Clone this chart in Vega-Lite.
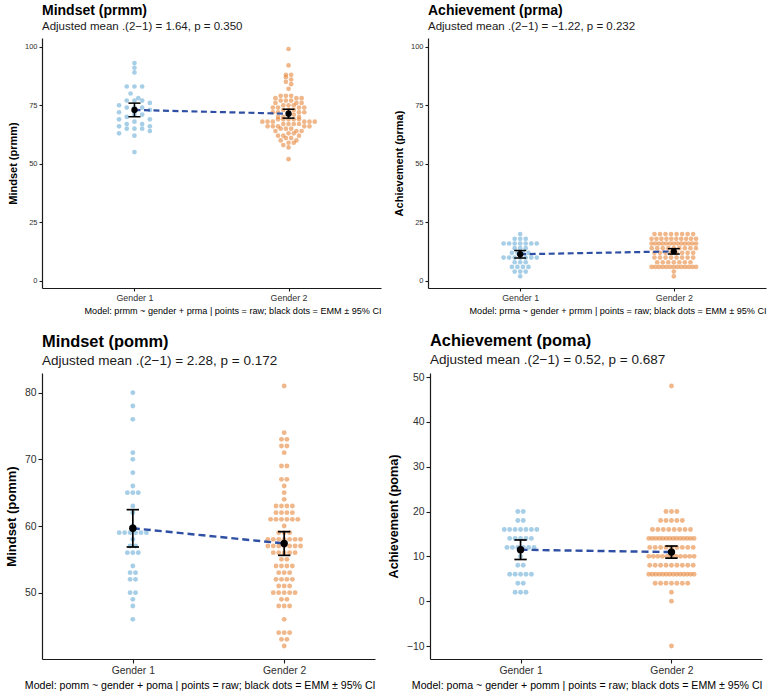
{
  "$schema": "https://vega.github.io/schema/vega-lite/v6.json",
  "background": "white",
  "padding": {"left": 5, "top": 3, "right": 5, "bottom": 3},
  "config": {
    "font": "Liberation Sans",
    "view": {"stroke": null},
    "axis": {"grid": false, "domainColor": "#1a1a1a", "tickColor": "#1a1a1a", "labelColor": "#303030", "titleColor": "#000000", "domainWidth": 1.2, "tickWidth": 1.1, "titleFontWeight": "bold"},
    "title": {"anchor": "start", "frame": "group", "color": "#000000", "subtitleColor": "#1a1a1a", "fontWeight": "bold", "subtitleFontWeight": "normal"}
  },
  "datasets": {
    "prmm": [
      {"gender":1,"score":93},{"gender":1,"score":91},{"gender":1,"score":89},{"gender":1,"score":83},{"gender":1,"score":83},{"gender":1,"score":83},{"gender":1,"score":80},{"gender":1,"score":78},{"gender":1,"score":77},{"gender":1,"score":77},{"gender":1,"score":77},{"gender":1,"score":76},{"gender":1,"score":75},{"gender":1,"score":74},{"gender":1,"score":74},{"gender":1,"score":74},{"gender":1,"score":73},{"gender":1,"score":72},{"gender":1,"score":71},{"gender":1,"score":71},{"gender":1,"score":70},{"gender":1,"score":69},{"gender":1,"score":69},{"gender":1,"score":68},{"gender":1,"score":67},{"gender":1,"score":67},{"gender":1,"score":66},{"gender":1,"score":66},{"gender":1,"score":65},{"gender":1,"score":65},{"gender":1,"score":65},{"gender":1,"score":64},{"gender":1,"score":63},{"gender":1,"score":62},{"gender":1,"score":55},
      {"gender":2,"score":99},{"gender":2,"score":92},{"gender":2,"score":88},{"gender":2,"score":88},{"gender":2,"score":87},{"gender":2,"score":86},{"gender":2,"score":85},{"gender":2,"score":84},{"gender":2,"score":82},{"gender":2,"score":79},{"gender":2,"score":79},{"gender":2,"score":79},{"gender":2,"score":78},{"gender":2,"score":78},{"gender":2,"score":78},{"gender":2,"score":77},{"gender":2,"score":77},{"gender":2,"score":77},{"gender":2,"score":76},{"gender":2,"score":76},{"gender":2,"score":76},{"gender":2,"score":75},{"gender":2,"score":75},{"gender":2,"score":75},{"gender":2,"score":74},{"gender":2,"score":74},{"gender":2,"score":74},{"gender":2,"score":74},{"gender":2,"score":73},{"gender":2,"score":73},{"gender":2,"score":73},{"gender":2,"score":72},{"gender":2,"score":72},{"gender":2,"score":72},{"gender":2,"score":72},{"gender":2,"score":71},{"gender":2,"score":71},{"gender":2,"score":70},{"gender":2,"score":70},{"gender":2,"score":70},{"gender":2,"score":69},{"gender":2,"score":69},{"gender":2,"score":69},{"gender":2,"score":69},{"gender":2,"score":69},{"gender":2,"score":68},{"gender":2,"score":68},{"gender":2,"score":68},{"gender":2,"score":68},{"gender":2,"score":68},{"gender":2,"score":68},{"gender":2,"score":67},{"gender":2,"score":67},{"gender":2,"score":67},{"gender":2,"score":67},{"gender":2,"score":66},{"gender":2,"score":66},{"gender":2,"score":66},{"gender":2,"score":66},{"gender":2,"score":66},{"gender":2,"score":65},{"gender":2,"score":65},{"gender":2,"score":65},{"gender":2,"score":64},{"gender":2,"score":64},{"gender":2,"score":64},{"gender":2,"score":63},{"gender":2,"score":63},{"gender":2,"score":62},{"gender":2,"score":62},{"gender":2,"score":62},{"gender":2,"score":61},{"gender":2,"score":61},{"gender":2,"score":60},{"gender":2,"score":60},{"gender":2,"score":59},{"gender":2,"score":59},{"gender":2,"score":58},{"gender":2,"score":57},{"gender":2,"score":52}
    ],
    "prma": [
      {"gender":1,"score":20},{"gender":1,"score":18},{"gender":1,"score":18},{"gender":1,"score":18},{"gender":1,"score":16},{"gender":1,"score":16},{"gender":1,"score":16},{"gender":1,"score":16},{"gender":1,"score":16},{"gender":1,"score":16},{"gender":1,"score":16},{"gender":1,"score":14},{"gender":1,"score":14},{"gender":1,"score":14},{"gender":1,"score":12},{"gender":1,"score":12},{"gender":1,"score":12},{"gender":1,"score":12},{"gender":1,"score":10},{"gender":1,"score":10},{"gender":1,"score":10},{"gender":1,"score":10},{"gender":1,"score":10},{"gender":1,"score":10},{"gender":1,"score":10},{"gender":1,"score":8},{"gender":1,"score":8},{"gender":1,"score":8},{"gender":1,"score":6},{"gender":1,"score":6},{"gender":1,"score":6},{"gender":1,"score":6},{"gender":1,"score":4},{"gender":1,"score":4},{"gender":1,"score":4},{"gender":1,"score":2},
      {"gender":2,"score":20},{"gender":2,"score":20},{"gender":2,"score":20},{"gender":2,"score":20},{"gender":2,"score":20},{"gender":2,"score":20},{"gender":2,"score":20},{"gender":2,"score":20},
      {"gender":2,"score":18},{"gender":2,"score":18},{"gender":2,"score":18},{"gender":2,"score":18},{"gender":2,"score":18},{"gender":2,"score":18},{"gender":2,"score":18},{"gender":2,"score":18},{"gender":2,"score":18},{"gender":2,"score":18},
      {"gender":2,"score":16},{"gender":2,"score":16},{"gender":2,"score":16},{"gender":2,"score":16},{"gender":2,"score":16},{"gender":2,"score":16},{"gender":2,"score":16},{"gender":2,"score":16},{"gender":2,"score":16},{"gender":2,"score":16},{"gender":2,"score":16},{"gender":2,"score":16},{"gender":2,"score":16},
      {"gender":2,"score":14},{"gender":2,"score":14},{"gender":2,"score":14},{"gender":2,"score":14},{"gender":2,"score":14},{"gender":2,"score":14},{"gender":2,"score":14},{"gender":2,"score":14},{"gender":2,"score":14},
      {"gender":2,"score":12},{"gender":2,"score":12},{"gender":2,"score":12},{"gender":2,"score":12},{"gender":2,"score":12},{"gender":2,"score":12},{"gender":2,"score":12},{"gender":2,"score":12},
      {"gender":2,"score":10},{"gender":2,"score":10},{"gender":2,"score":10},{"gender":2,"score":10},{"gender":2,"score":10},{"gender":2,"score":10},{"gender":2,"score":10},{"gender":2,"score":10},
      {"gender":2,"score":8},{"gender":2,"score":8},{"gender":2,"score":8},{"gender":2,"score":8},{"gender":2,"score":8},{"gender":2,"score":8},{"gender":2,"score":8},
      {"gender":2,"score":6},{"gender":2,"score":6},{"gender":2,"score":6},{"gender":2,"score":6},{"gender":2,"score":6},{"gender":2,"score":6},{"gender":2,"score":6},{"gender":2,"score":6},{"gender":2,"score":6},{"gender":2,"score":6},{"gender":2,"score":6},{"gender":2,"score":6},{"gender":2,"score":6},
      {"gender":2,"score":4},{"gender":2,"score":2}
    ],
    "pomm": [
      {"gender":1,"score":80},{"gender":1,"score":78},{"gender":1,"score":76},{"gender":1,"score":71},{"gender":1,"score":70},{"gender":1,"score":68},{"gender":1,"score":66},{"gender":1,"score":65},{"gender":1,"score":65},{"gender":1,"score":65},{"gender":1,"score":63},{"gender":1,"score":62},{"gender":1,"score":60},{"gender":1,"score":59},{"gender":1,"score":59},{"gender":1,"score":59},{"gender":1,"score":59},{"gender":1,"score":59},{"gender":1,"score":59},{"gender":1,"score":58},{"gender":1,"score":57},{"gender":1,"score":57},{"gender":1,"score":56},{"gender":1,"score":56},{"gender":1,"score":56},{"gender":1,"score":54},{"gender":1,"score":53},{"gender":1,"score":53},{"gender":1,"score":52},{"gender":1,"score":52},{"gender":1,"score":50},{"gender":1,"score":50},{"gender":1,"score":49},{"gender":1,"score":48},{"gender":1,"score":46},
      {"gender":2,"score":81},{"gender":2,"score":74},{"gender":2,"score":73},{"gender":2,"score":73},{"gender":2,"score":72},{"gender":2,"score":72},{"gender":2,"score":71},{"gender":2,"score":69},{"gender":2,"score":69},{"gender":2,"score":67},{"gender":2,"score":67},{"gender":2,"score":66},{"gender":2,"score":65},{"gender":2,"score":64},
      {"gender":2,"score":63},{"gender":2,"score":63},{"gender":2,"score":63},{"gender":2,"score":63},{"gender":2,"score":62},{"gender":2,"score":62},{"gender":2,"score":62},{"gender":2,"score":62},
      {"gender":2,"score":61},{"gender":2,"score":61},{"gender":2,"score":61},{"gender":2,"score":61},{"gender":2,"score":61},{"gender":2,"score":61},{"gender":2,"score":60},{"gender":2,"score":59},{"gender":2,"score":59},{"gender":2,"score":59},
      {"gender":2,"score":58},{"gender":2,"score":58},{"gender":2,"score":58},{"gender":2,"score":58},{"gender":2,"score":58},{"gender":2,"score":58},{"gender":2,"score":58},
      {"gender":2,"score":57},{"gender":2,"score":57},{"gender":2,"score":57},{"gender":2,"score":57},{"gender":2,"score":57},{"gender":2,"score":57},{"gender":2,"score":57},
      {"gender":2,"score":56},{"gender":2,"score":56},{"gender":2,"score":56},{"gender":2,"score":56},{"gender":2,"score":56},{"gender":2,"score":55},{"gender":2,"score":55},
      {"gender":2,"score":54},{"gender":2,"score":54},{"gender":2,"score":54},{"gender":2,"score":54},{"gender":2,"score":53},{"gender":2,"score":53},{"gender":2,"score":53},
      {"gender":2,"score":52},{"gender":2,"score":52},{"gender":2,"score":52},{"gender":2,"score":52},{"gender":2,"score":51},{"gender":2,"score":51},{"gender":2,"score":51},
      {"gender":2,"score":50},{"gender":2,"score":50},{"gender":2,"score":50},{"gender":2,"score":50},{"gender":2,"score":50},{"gender":2,"score":49},{"gender":2,"score":49},
      {"gender":2,"score":48},{"gender":2,"score":48},{"gender":2,"score":48},{"gender":2,"score":46},{"gender":2,"score":44},{"gender":2,"score":44},{"gender":2,"score":44},{"gender":2,"score":43},{"gender":2,"score":43},{"gender":2,"score":42}
    ],
    "poma": [
      {"gender":1,"score":20},{"gender":1,"score":20},{"gender":1,"score":18},{"gender":1,"score":18},{"gender":1,"score":16},{"gender":1,"score":16},{"gender":1,"score":16},{"gender":1,"score":16},{"gender":1,"score":16},{"gender":1,"score":16},{"gender":1,"score":16},{"gender":1,"score":14},{"gender":1,"score":14},{"gender":1,"score":14},{"gender":1,"score":14},{"gender":1,"score":14},{"gender":1,"score":12},{"gender":1,"score":12},{"gender":1,"score":12},{"gender":1,"score":12},{"gender":1,"score":12},{"gender":1,"score":12},{"gender":1,"score":10},{"gender":1,"score":8},{"gender":1,"score":8},{"gender":1,"score":6},{"gender":1,"score":6},{"gender":1,"score":6},{"gender":1,"score":6},{"gender":1,"score":6},{"gender":1,"score":4},{"gender":1,"score":4},{"gender":1,"score":2},{"gender":1,"score":2},{"gender":1,"score":2},
      {"gender":2,"score":48},{"gender":2,"score":20},{"gender":2,"score":20},{"gender":2,"score":20},
      {"gender":2,"score":18},{"gender":2,"score":18},{"gender":2,"score":18},{"gender":2,"score":18},{"gender":2,"score":18},
      {"gender":2,"score":16},{"gender":2,"score":16},{"gender":2,"score":16},{"gender":2,"score":16},{"gender":2,"score":16},{"gender":2,"score":16},{"gender":2,"score":16},{"gender":2,"score":16},
      {"gender":2,"score":14},{"gender":2,"score":14},{"gender":2,"score":14},{"gender":2,"score":14},{"gender":2,"score":14},{"gender":2,"score":14},{"gender":2,"score":14},{"gender":2,"score":14},{"gender":2,"score":14},{"gender":2,"score":14},{"gender":2,"score":14},{"gender":2,"score":14},{"gender":2,"score":14},{"gender":2,"score":14},
      {"gender":2,"score":12},{"gender":2,"score":12},{"gender":2,"score":12},{"gender":2,"score":12},{"gender":2,"score":12},{"gender":2,"score":12},{"gender":2,"score":12},{"gender":2,"score":12},{"gender":2,"score":12},
      {"gender":2,"score":10},{"gender":2,"score":10},{"gender":2,"score":10},{"gender":2,"score":10},{"gender":2,"score":10},{"gender":2,"score":10},{"gender":2,"score":10},{"gender":2,"score":10},{"gender":2,"score":10},{"gender":2,"score":10},{"gender":2,"score":10},
      {"gender":2,"score":8},{"gender":2,"score":8},{"gender":2,"score":8},{"gender":2,"score":8},{"gender":2,"score":8},{"gender":2,"score":8},{"gender":2,"score":8},{"gender":2,"score":8},{"gender":2,"score":8},
      {"gender":2,"score":6},{"gender":2,"score":6},{"gender":2,"score":6},{"gender":2,"score":6},{"gender":2,"score":6},{"gender":2,"score":6},{"gender":2,"score":6},{"gender":2,"score":6},{"gender":2,"score":6},{"gender":2,"score":6},{"gender":2,"score":6},{"gender":2,"score":6},{"gender":2,"score":6},{"gender":2,"score":6},
      {"gender":2,"score":4},{"gender":2,"score":4},{"gender":2,"score":4},{"gender":2,"score":4},{"gender":2,"score":4},{"gender":2,"score":4},{"gender":2,"score":4},
      {"gender":2,"score":2},{"gender":2,"score":0},{"gender":2,"score":-10}
    ],
    "emm": [
      {"panel":"prmm","gender":1,"score":73.0,"lo":70.1,"hi":75.9},
      {"panel":"prmm","gender":2,"score":71.36,"lo":69.5,"hi":73.3},
      {"panel":"prma","gender":1,"score":11.4,"lo":9.8,"hi":13.0},
      {"panel":"prma","gender":2,"score":12.62,"lo":11.5,"hi":13.8},
      {"panel":"pomm","gender":1,"score":59.66,"lo":56.85,"hi":62.45},
      {"panel":"pomm","gender":2,"score":57.38,"lo":55.6,"hi":59.15},
      {"panel":"poma","gender":1,"score":11.47,"lo":9.3,"hi":13.65},
      {"panel":"poma","gender":2,"score":10.95,"lo":9.6,"hi":12.3}
    ]
  },
  "spacing": 17,
  "vconcat": [
    {
      "spacing": 12,
      "hconcat": [
        {
          "width": 339, "height": 250,
          "title": {"text": "Mindset (prmm)", "subtitle": "Adjusted mean .(2−1) = 1.64, p = 0.350", "fontSize": 14, "subtitleFontSize": 11.5, "subtitlePadding": 3, "offset": 6},
          "layer": [
            {
              "data": {"name": "prmm"},
              "transform": [
                {"calculate": "floor(datum.score / (datum.gender === 1 ? 3 : 2))", "as": "row"},
                {"window": [{"op": "row_number", "as": "r"}], "groupby": ["gender", "row"]},
                {"joinaggregate": [{"op": "count", "as": "n"}], "groupby": ["gender", "row"]},
                {"calculate": "(datum.r % 2 === 0 ? datum.r / 2 : -(datum.r - 1) / 2) - (datum.n % 2 === 0 ? 0.5 : 0)", "as": "slot"},
                {"calculate": "datum.gender + datum.slot * min(datum.gender === 1 ? 0.05 : 0.034, 0.34 / max(datum.n - 1, 1))", "as": "xpos"}
              ],
              "mark": {"type": "circle", "size": 22, "opacity": 0.6},
              "encoding": {
                "x": {"field": "xpos", "type": "quantitative", "scale": {"domain": [0.4, 2.6], "nice": false, "zero": false},
                      "axis": {"values": [1, 2], "labelExpr": "'Gender ' + datum.value", "title": "Model: prmm ~ gender + prma | points = raw; black dots = EMM ± 95% CI", "titleAnchor": "end", "titleFontSize": 9.1, "titleFontWeight": "normal", "titlePadding": 5, "labelFontSize": 8.9, "tickSize": 3, "labelPadding": 2}},
                "y": {"field": "score", "type": "quantitative", "scale": {"domain": [-3, 103.7], "nice": false, "zero": false},
                      "axis": {"values": [0, 25, 50, 75, 100], "title": "Mindset (prmm)", "titleFontSize": 11, "titlePadding": 6, "labelFontSize": 7.5, "tickSize": 3, "labelPadding": 2}},
                "color": {"field": "gender", "type": "nominal", "scale": {"domain": [1, 2], "range": ["#6baed6", "#e6873c"]}, "legend": null}
              }
            },
            {
              "data": {"name": "emm"},
              "transform": [{"filter": "datum.panel === 'prmm'"}],
              "mark": {"type": "line", "color": "#2e4fa3", "strokeWidth": 2.2, "strokeDash": [6, 3.5]},
              "encoding": {"x": {"field": "gender", "type": "quantitative"}, "y": {"field": "score", "type": "quantitative"}}
            },
            {
              "data": {"name": "emm"},
              "transform": [{"filter": "datum.panel === 'prmm'"}],
              "mark": {"type": "rule", "color": "black", "strokeWidth": 1.5},
              "encoding": {"x": {"field": "gender", "type": "quantitative"}, "y": {"field": "lo", "type": "quantitative"}, "y2": {"field": "hi"}}
            },
            {
              "data": {"name": "emm"},
              "transform": [
                {"filter": "datum.panel === 'prmm'"},
                {"fold": ["lo", "hi"], "as": ["end", "bound"]},
                {"calculate": "datum.gender - 0.039", "as": "xl"},
                {"calculate": "datum.gender + 0.039", "as": "xr"}
              ],
              "mark": {"type": "rule", "color": "black", "strokeWidth": 1.5},
              "encoding": {"x": {"field": "xl", "type": "quantitative"}, "x2": {"field": "xr"}, "y": {"field": "bound", "type": "quantitative"}}
            },
            {
              "data": {"name": "emm"},
              "transform": [{"filter": "datum.panel === 'prmm'"}],
              "mark": {"type": "circle", "color": "black", "size": 40, "opacity": 1},
              "encoding": {"x": {"field": "gender", "type": "quantitative"}, "y": {"field": "score", "type": "quantitative"}}
            }
          ]
        },
        {
          "width": 338, "height": 250,
          "title": {"text": "Achievement (prma)", "subtitle": "Adjusted mean .(2−1) = −1.22, p = 0.232", "fontSize": 14, "subtitleFontSize": 11.5, "subtitlePadding": 3, "offset": 6},
          "layer": [
            {
              "data": {"name": "prma"},
              "transform": [
                {"calculate": "datum.score", "as": "row"},
                {"window": [{"op": "row_number", "as": "r"}], "groupby": ["gender", "row"]},
                {"joinaggregate": [{"op": "count", "as": "n"}], "groupby": ["gender", "row"]},
                {"calculate": "(datum.r % 2 === 0 ? datum.r / 2 : -(datum.r - 1) / 2) - (datum.n % 2 === 0 ? 0.5 : 0)", "as": "slot"},
                {"calculate": "datum.gender + datum.slot * min(0.036, 0.29 / max(datum.n - 1, 1))", "as": "xpos"}
              ],
              "mark": {"type": "circle", "size": 22, "opacity": 0.6},
              "encoding": {
                "x": {"field": "xpos", "type": "quantitative", "scale": {"domain": [0.4, 2.6], "nice": false, "zero": false},
                      "axis": {"values": [1, 2], "labelExpr": "'Gender ' + datum.value", "title": "Model: prma ~ gender + prmm | points = raw; black dots = EMM ± 95% CI", "titleAnchor": "end", "titleFontSize": 9.1, "titleFontWeight": "normal", "titlePadding": 5, "labelFontSize": 8.9, "tickSize": 3, "labelPadding": 2}},
                "y": {"field": "score", "type": "quantitative", "scale": {"domain": [-3, 103.7], "nice": false, "zero": false},
                      "axis": {"values": [0, 25, 50, 75, 100], "title": "Achievement (prma)", "titleFontSize": 11, "titlePadding": 6, "labelFontSize": 7.5, "tickSize": 3, "labelPadding": 2}},
                "color": {"field": "gender", "type": "nominal", "scale": {"domain": [1, 2], "range": ["#6baed6", "#e6873c"]}, "legend": null}
              }
            },
            {
              "data": {"name": "emm"},
              "transform": [{"filter": "datum.panel === 'prma'"}],
              "mark": {"type": "line", "color": "#2e4fa3", "strokeWidth": 2.2, "strokeDash": [6, 3.5]},
              "encoding": {"x": {"field": "gender", "type": "quantitative"}, "y": {"field": "score", "type": "quantitative"}}
            },
            {
              "data": {"name": "emm"},
              "transform": [{"filter": "datum.panel === 'prma'"}],
              "mark": {"type": "rule", "color": "black", "strokeWidth": 1.5},
              "encoding": {"x": {"field": "gender", "type": "quantitative"}, "y": {"field": "lo", "type": "quantitative"}, "y2": {"field": "hi"}}
            },
            {
              "data": {"name": "emm"},
              "transform": [
                {"filter": "datum.panel === 'prma'"},
                {"fold": ["lo", "hi"], "as": ["end", "bound"]},
                {"calculate": "datum.gender - 0.039", "as": "xl"},
                {"calculate": "datum.gender + 0.039", "as": "xr"}
              ],
              "mark": {"type": "rule", "color": "black", "strokeWidth": 1.5},
              "encoding": {"x": {"field": "xl", "type": "quantitative"}, "x2": {"field": "xr"}, "y": {"field": "bound", "type": "quantitative"}}
            },
            {
              "data": {"name": "emm"},
              "transform": [{"filter": "datum.panel === 'prma'"}],
              "mark": {"type": "circle", "color": "black", "size": 40, "opacity": 1},
              "encoding": {"x": {"field": "gender", "type": "quantitative"}, "y": {"field": "score", "type": "quantitative"}}
            }
          ]
        }
      ]
    },
    {
      "spacing": 12,
      "hconcat": [
        {
          "width": 333, "height": 286,
          "title": {"text": "Mindset (pomm)", "subtitle": "Adjusted mean .(2−1) = 2.28, p = 0.172", "fontSize": 16.4, "subtitleFontSize": 13.5, "subtitlePadding": 3, "offset": 6},
          "layer": [
            {
              "data": {"name": "pomm"},
              "transform": [
                {"calculate": "datum.score", "as": "row"},
                {"window": [{"op": "row_number", "as": "r"}], "groupby": ["gender", "row"]},
                {"joinaggregate": [{"op": "count", "as": "n"}], "groupby": ["gender", "row"]},
                {"calculate": "(datum.r % 2 === 0 ? datum.r / 2 : -(datum.r - 1) / 2) - (datum.n % 2 === 0 ? 0.5 : 0)", "as": "slot"},
                {"calculate": "datum.gender + datum.slot * min(0.036, 0.30 / max(datum.n - 1, 1))", "as": "xpos"}
              ],
              "mark": {"type": "circle", "size": 24, "opacity": 0.6},
              "encoding": {
                "x": {"field": "xpos", "type": "quantitative", "scale": {"domain": [0.4, 2.6], "nice": false, "zero": false},
                      "axis": {"values": [1, 2], "labelExpr": "'Gender ' + datum.value", "title": "Model: pomm ~ gender + poma | points = raw; black dots = EMM ± 95% CI", "titleAnchor": "end", "titleFontSize": 10.6, "titleFontWeight": "normal", "titlePadding": 5, "labelFontSize": 10.4, "tickSize": 4, "labelPadding": 2}},
                "y": {"field": "score", "type": "quantitative", "scale": {"domain": [40.05, 82.95], "nice": false, "zero": false},
                      "axis": {"values": [50, 60, 70, 80], "title": "Mindset (pomm)", "titleFontSize": 13, "titlePadding": 6, "labelFontSize": 10.4, "tickSize": 4, "labelPadding": 2}},
                "color": {"field": "gender", "type": "nominal", "scale": {"domain": [1, 2], "range": ["#6baed6", "#e6873c"]}, "legend": null}
              }
            },
            {
              "data": {"name": "emm"},
              "transform": [{"filter": "datum.panel === 'pomm'"}],
              "mark": {"type": "line", "color": "#2e4fa3", "strokeWidth": 2.4, "strokeDash": [7, 4]},
              "encoding": {"x": {"field": "gender", "type": "quantitative"}, "y": {"field": "score", "type": "quantitative"}}
            },
            {
              "data": {"name": "emm"},
              "transform": [{"filter": "datum.panel === 'pomm'"}],
              "mark": {"type": "rule", "color": "black", "strokeWidth": 1.7},
              "encoding": {"x": {"field": "gender", "type": "quantitative"}, "y": {"field": "lo", "type": "quantitative"}, "y2": {"field": "hi"}}
            },
            {
              "data": {"name": "emm"},
              "transform": [
                {"filter": "datum.panel === 'pomm'"},
                {"fold": ["lo", "hi"], "as": ["end", "bound"]},
                {"calculate": "datum.gender - 0.041", "as": "xl"},
                {"calculate": "datum.gender + 0.041", "as": "xr"}
              ],
              "mark": {"type": "rule", "color": "black", "strokeWidth": 1.7},
              "encoding": {"x": {"field": "xl", "type": "quantitative"}, "x2": {"field": "xr"}, "y": {"field": "bound", "type": "quantitative"}}
            },
            {
              "data": {"name": "emm"},
              "transform": [{"filter": "datum.panel === 'pomm'"}],
              "mark": {"type": "circle", "color": "black", "size": 55, "opacity": 1},
              "encoding": {"x": {"field": "gender", "type": "quantitative"}, "y": {"field": "score", "type": "quantitative"}}
            }
          ]
        },
        {
          "width": 332, "height": 286,
          "title": {"text": "Achievement (poma)", "subtitle": "Adjusted mean .(2−1) = 0.52, p = 0.687", "fontSize": 16.4, "subtitleFontSize": 13.5, "subtitlePadding": 3, "offset": 6},
          "layer": [
            {
              "data": {"name": "poma"},
              "transform": [
                {"calculate": "datum.score", "as": "row"},
                {"window": [{"op": "row_number", "as": "r"}], "groupby": ["gender", "row"]},
                {"joinaggregate": [{"op": "count", "as": "n"}], "groupby": ["gender", "row"]},
                {"calculate": "(datum.r % 2 === 0 ? datum.r / 2 : -(datum.r - 1) / 2) - (datum.n % 2 === 0 ? 0.5 : 0)", "as": "slot"},
                {"calculate": "datum.gender + datum.slot * min(0.036, 0.30 / max(datum.n - 1, 1))", "as": "xpos"}
              ],
              "mark": {"type": "circle", "size": 24, "opacity": 0.6},
              "encoding": {
                "x": {"field": "xpos", "type": "quantitative", "scale": {"domain": [0.4, 2.6], "nice": false, "zero": false},
                      "axis": {"values": [1, 2], "labelExpr": "'Gender ' + datum.value", "title": "Model: poma ~ gender + pomm | points = raw; black dots = EMM ± 95% CI", "titleAnchor": "end", "titleFontSize": 10.6, "titleFontWeight": "normal", "titlePadding": 5, "labelFontSize": 10.4, "tickSize": 4, "labelPadding": 2}},
                "y": {"field": "score", "type": "quantitative", "scale": {"domain": [-12.9, 50.9], "nice": false, "zero": false},
                      "axis": {"values": [-10, 0, 10, 20, 30, 40, 50], "title": "Achievement (poma)", "titleFontSize": 12.6, "titlePadding": 6, "labelFontSize": 10.4, "tickSize": 4, "labelPadding": 2}},
                "color": {"field": "gender", "type": "nominal", "scale": {"domain": [1, 2], "range": ["#6baed6", "#e6873c"]}, "legend": null}
              }
            },
            {
              "data": {"name": "emm"},
              "transform": [{"filter": "datum.panel === 'poma'"}],
              "mark": {"type": "line", "color": "#2e4fa3", "strokeWidth": 2.4, "strokeDash": [7, 4]},
              "encoding": {"x": {"field": "gender", "type": "quantitative"}, "y": {"field": "score", "type": "quantitative"}}
            },
            {
              "data": {"name": "emm"},
              "transform": [{"filter": "datum.panel === 'poma'"}],
              "mark": {"type": "rule", "color": "black", "strokeWidth": 1.7},
              "encoding": {"x": {"field": "gender", "type": "quantitative"}, "y": {"field": "lo", "type": "quantitative"}, "y2": {"field": "hi"}}
            },
            {
              "data": {"name": "emm"},
              "transform": [
                {"filter": "datum.panel === 'poma'"},
                {"fold": ["lo", "hi"], "as": ["end", "bound"]},
                {"calculate": "datum.gender - 0.041", "as": "xl"},
                {"calculate": "datum.gender + 0.041", "as": "xr"}
              ],
              "mark": {"type": "rule", "color": "black", "strokeWidth": 1.7},
              "encoding": {"x": {"field": "xl", "type": "quantitative"}, "x2": {"field": "xr"}, "y": {"field": "bound", "type": "quantitative"}}
            },
            {
              "data": {"name": "emm"},
              "transform": [{"filter": "datum.panel === 'poma'"}],
              "mark": {"type": "circle", "color": "black", "size": 55, "opacity": 1},
              "encoding": {"x": {"field": "gender", "type": "quantitative"}, "y": {"field": "score", "type": "quantitative"}}
            }
          ]
        }
      ]
    }
  ]
}
